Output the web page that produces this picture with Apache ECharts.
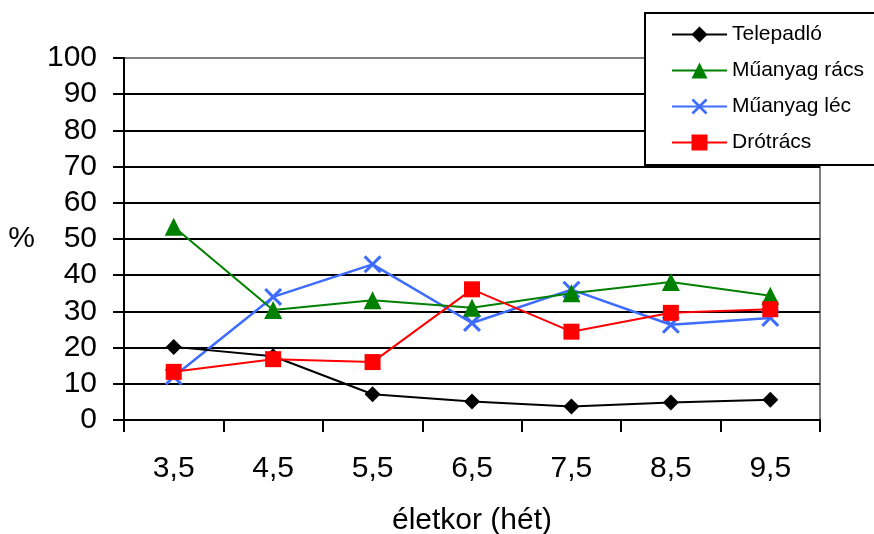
<!DOCTYPE html>
<html><head><meta charset="utf-8">
<script src="https://cdn.jsdelivr.net/npm/echarts@6/dist/echarts.min.js"></script>
<style>html,body{margin:0;padding:0;background:#fff}#c{width:874px;height:534px}</style>
</head><body><div id="c"></div>
<script>
const categories = ['3,5','4,5','5,5','6,5','7,5','8,5','9,5'];
const telepadlo = [20.2, 17.6, 7.1, 5.1, 3.7, 4.8, 5.6];
const muanyagRacs = [53.4, 30.4, 33.1, 31.0, 35.0, 38.1, 34.3];
const muanyagLec = [12.0, 34.0, 43.0, 26.8, 36.0, 26.3, 28.2];
const drotracs = [13.3, 16.8, 16.0, 36.1, 24.4, 29.6, 30.6];
const seriesNames = ['Telepadló','Műanyag rács','Műanyag léc','Drótrács'];
const yTicks = [0,10,20,30,40,50,60,70,80,90,100];

const font = 'Liberation Sans, Arial, sans-serif';
const xPath = 'path://M0,1.2L1.2,0L5,3.8L8.8,0L10,1.2L6.2,5L10,8.8L8.8,10L5,6.2L1.2,10L0,8.8L3.8,5Z';
const chart = echarts.init(document.getElementById('c'));
const splitColors = yTicks.map((v,i)=> i===yTicks.length-1 ? '#808080' : '#000');
chart.setOption({
  animation:false,
  backgroundColor:'#fff',
  textStyle:{fontFamily:font},
  grid:{left:124,right:54,top:58,bottom:114,outerBoundsMode:'none',containLabel:false,show:true,borderColor:'#808080',borderWidth:2,backgroundColor:'transparent'},
  legend:{
    orient:'vertical', left:645, top:13, width:229,
    padding:[11,30,12,26], itemGap:15, itemWidth:55, itemHeight:20,
    backgroundColor:'#fff', borderColor:'#000', borderWidth:2,
    textStyle:{fontSize:21,fontFamily:font,color:'#000'},
    data:seriesNames
  },
  xAxis:{
    type:'category', data:categories, boundaryGap:true,
    name:'életkor (hét)', nameLocation:'middle', nameGap:86,
    nameTextStyle:{fontSize:30,color:'#000',fontFamily:font},
    axisLine:{lineStyle:{color:'#000',width:2}},
    axisTick:{show:true,length:12,inside:false,lineStyle:{color:'#000',width:2},alignWithLabel:false},
    axisLabel:{fontSize:30,color:'#000',margin:34,fontFamily:font},
    splitLine:{show:false}
  },
  yAxis:{
    type:'value', min:0, max:100, interval:10,
    name:'%', nameLocation:'middle', nameRotate:0, nameGap:89,
    nameTextStyle:{fontSize:30,color:'#000',fontFamily:font},
    axisLine:{show:true,lineStyle:{color:'#000',width:2}},
    axisTick:{show:true,length:11,lineStyle:{color:'#000',width:2}},
    axisLabel:{fontSize:30,color:'#000',margin:27,fontFamily:font},
    splitLine:{show:true,lineStyle:{color:splitColors,width:2}}
  },
  series:[
    {name:seriesNames[0],type:'line',data:telepadlo,symbol:'diamond',symbolSize:16,
     lineStyle:{color:'#000',width:2},itemStyle:{color:'#000'},z:5},
    {name:seriesNames[1],type:'line',data:muanyagRacs,symbol:'triangle',symbolSize:18,
     lineStyle:{color:'#008000',width:2},itemStyle:{color:'#008000'},z:4},
    {name:seriesNames[2],type:'line',data:muanyagLec,symbol:xPath,symbolSize:18,
     lineStyle:{color:'#3d6cff',width:2.5},itemStyle:{color:'#3d6cff'},z:3},
    {name:seriesNames[3],type:'line',data:drotracs,symbol:'rect',symbolSize:16,
     lineStyle:{color:'#ff0000',width:2},itemStyle:{color:'#ff0000'},z:6}
  ]
});
</script></body></html>
